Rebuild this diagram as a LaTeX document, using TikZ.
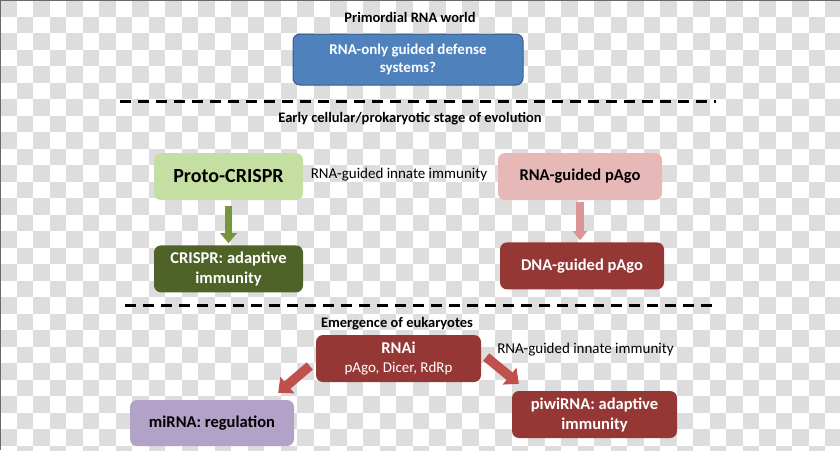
\documentclass[tikz,border=0pt]{standalone}
\usepackage{fontspec}
\setmainfont{Carlito}
\usepackage{tikz}
\usetikzlibrary{positioning, arrows.meta}
\usepackage{xcolor}

\definecolor{checker}{RGB}{221,221,221}
\definecolor{framegray}{RGB}{105,105,105}
\definecolor{boxblue}{RGB}{79,129,189}
\definecolor{boxblueline}{RGB}{56,93,138}
\definecolor{protogreen}{RGB}{197,223,162}
\definecolor{darkgreen}{RGB}{79,98,40}
\definecolor{arrowgreen}{RGB}{119,150,60}
\definecolor{lightpink}{RGB}{230,185,184}
\definecolor{arrowpink}{RGB}{217,150,148}
\definecolor{darkred}{RGB}{149,55,53}
\definecolor{arrowred}{RGB}{192,80,77}
\definecolor{lavender}{RGB}{179,162,199}

\begin{document}
\begin{tikzpicture}[
    x=1pt, y=-1pt,
    stage/.style={font=\bfseries\fontsize{14.5}{17}\selectfont},
    box/.style={rectangle, rounded corners=7pt, align=center, inner sep=0pt, minimum width=164pt, minimum height=47pt, text=white, font=\bfseries\fontsize{16.5}{20}\selectfont},
    note/.style={font=\fontsize{15}{18}\selectfont},
    separator/.style={line width=3pt, dash pattern=on 11pt off 7pt},
    blockarrow/.style={-{Triangle[length=10pt, width=16pt]}, line width=7.5pt},
    redarrow/.style={-{Triangle[length=12pt, width=21pt]}, line width=9.5pt, arrowred}
]
    \useasboundingbox (0,0) rectangle (840,450);

    % Background
    \begin{scope}
        \clip (0,0) rectangle (840,450);
        \foreach \j in {0,...,27}{
            \pgfmathtruncatemacro{\first}{mod(\j,2)}
            \pgfmathtruncatemacro{\second}{\first+2}
            \foreach \i in {\first,\second,...,50}
                \fill[checker] (\i*16.5,\j*16.5) rectangle ++(16.5,16.5);
        }
        \draw[framegray, line width=1.6pt] (0,450) -- (0,0) -- (840,0);
    \end{scope}

    % Stages
    \node[stage] (world) at (410,17) {Primordial RNA world};
    \node[stage] (early) at (410,119) {Early cellular/prokaryotic stage of evolution};
    \node[stage] (euk) at (397,324) {Emergence of eukaryotes};
    \draw[separator] (120,101) -- (716,101);
    \draw[separator] (125,305) -- (712,305);

    % Nodes
    \node[box, fill=boxblue, draw=boxblueline, line width=1pt, minimum width=230pt, minimum height=51pt, font=\bfseries\fontsize{15}{18}\selectfont] (rnaonly) at (408,59.5) {RNA-only guided defense\\systems?};
    \node[box, fill=protogreen, text=black, minimum width=149pt, font=\bfseries\fontsize{20}{24}\selectfont] (proto) at (228.5,176.5) {Proto-CRISPR};
    \node[box, fill=darkgreen, minimum width=149pt, below=45pt of proto] (crispr) {CRISPR: adaptive\\immunity};
    \node[note] (innate1) at (399,175) {RNA-guided innate immunity};
    \node[box, fill=lightpink, text=black] (rnapago) at (580,176.5) {RNA-guided pAgo};
    \node[box, fill=darkred, below=42pt of rnapago, xshift=2pt] (dnapago) {DNA-guided pAgo};
    \node[box, fill=darkred, minimum width=165pt] (rnai) at (398.5,358.5) {RNAi\\[-1pt]{\mdseries\fontsize{15}{18}\selectfont pAgo, Dicer, RdRp}};
    \node[note] (innate2) at (585.5,350) {RNA-guided innate immunity};
    \node[box, fill=lavender, text=black, minimum height=46pt] (mirna) at (212,423) {miRNA: regulation};
    \node[box, fill=darkred, minimum width=165pt] (piwi) at (594.5,414.5) {piwiRNA: adaptive\\immunity};

    % Edges
    \draw[blockarrow, arrowgreen, shorten <=6pt, shorten >=2pt] (proto) -- (crispr);
    \draw[blockarrow, arrowpink, -{Triangle[length=9pt, width=14pt]}, shorten <=2pt, shorten >=2pt] (rnapago) -- (rnapago |- dnapago.north);
    \draw[redarrow] ([xshift=-6pt, yshift=-7.5pt]rnai.west) -- ([xshift=-16pt, yshift=7pt]mirna.north east);
    \draw[redarrow] ([xshift=5pt, yshift=1.5pt]rnai.east) -- ([xshift=7pt, yshift=7pt]piwi.north west);
\end{tikzpicture}
\end{document}
